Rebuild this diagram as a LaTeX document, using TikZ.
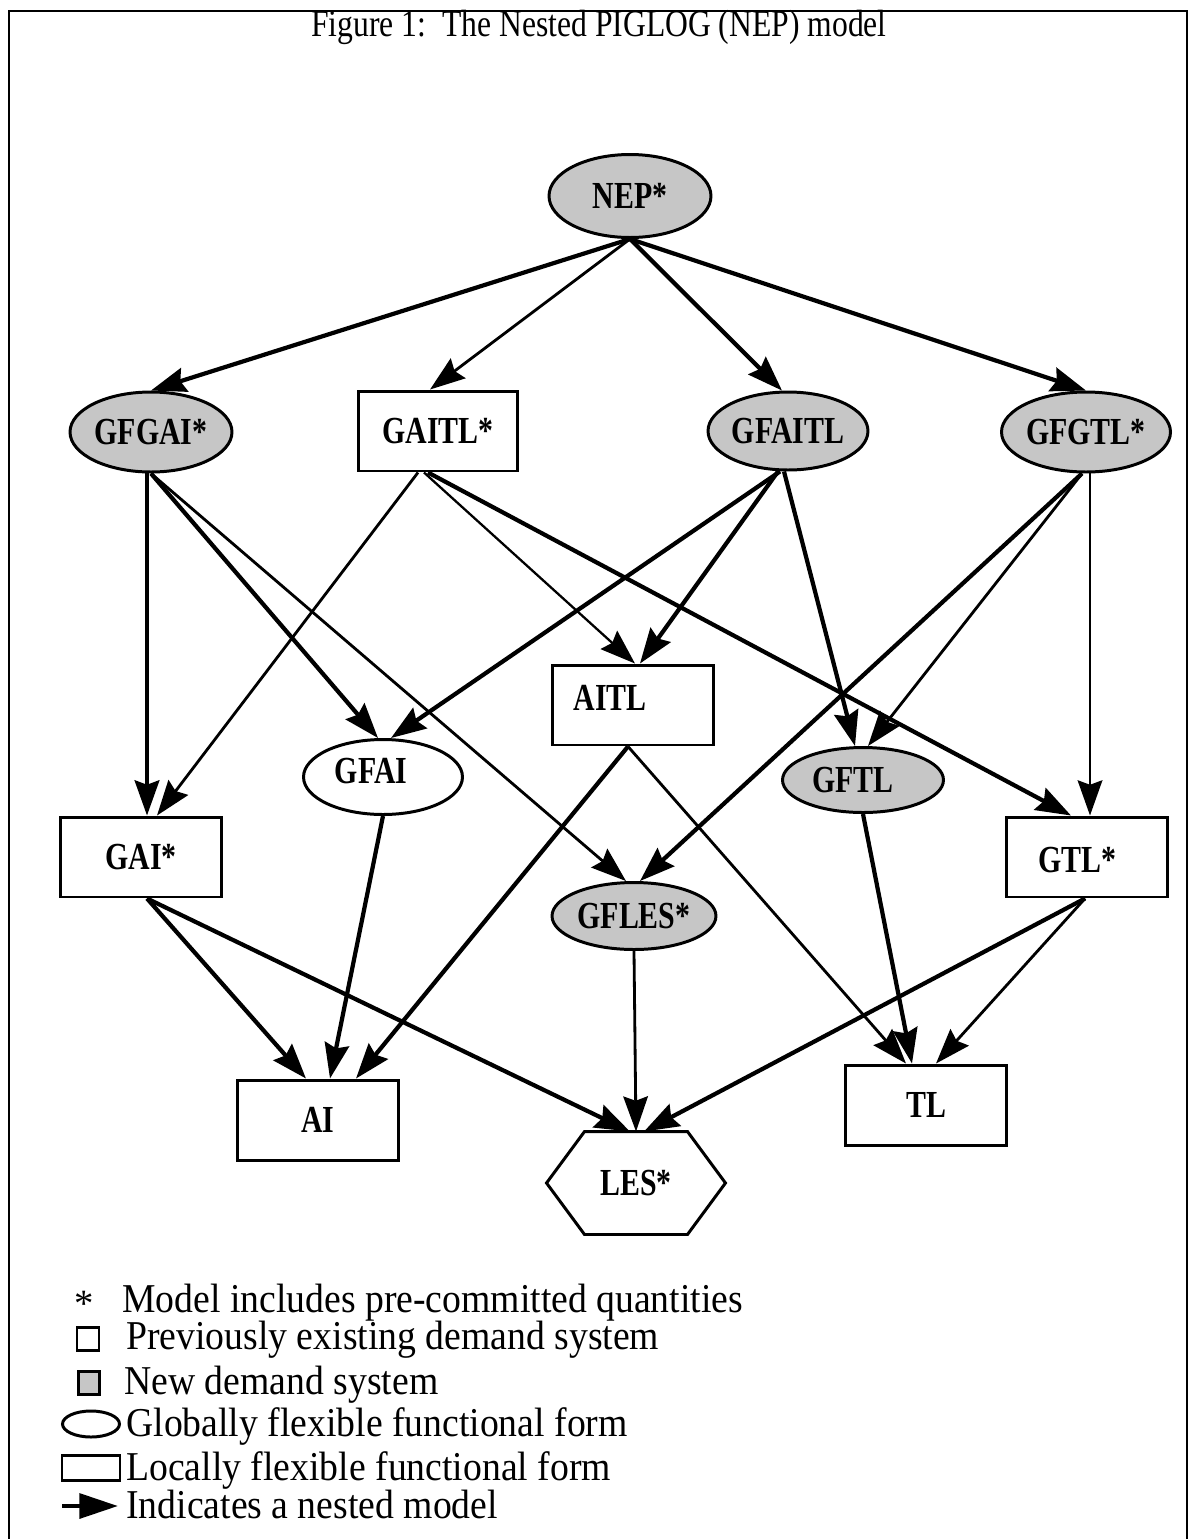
\documentclass[tikz,border=0pt]{standalone}
\usepackage{fontspec}
\usepackage{graphicx}
\setmainfont{Liberation Serif}
\usetikzlibrary{arrows.meta,calc,shapes.geometric}
\newcommand{\vst}[1]{\scalebox{1}[1.28]{#1}}
\newcommand{\lgt}[1]{\scalebox{0.975}[1.06]{#1}}
\tikzset{
 base/.style={draw,line width=1.7pt,inner sep=0pt,font=\fontsize{17}{20}\selectfont\bfseries},
 ebox/.style={base,ellipse},
 shaded/.style={fill=gray!45},
 rbox/.style={base,rectangle,minimum width=3.22cm,minimum height=1.6cm},
 lbl/.style={inner sep=0pt,font=\fontsize{17}{20}\selectfont\bfseries},
 tip/.style={-{Stealth[length=20pt,width=14pt,inset=2.5pt]}},
 thk/.style={tip,line width=2.4pt},
 thn/.style={tip,line width=1.6pt},
 thnn/.style={tip,line width=1.3pt},
 legtext/.style={anchor=base west,inner sep=0pt,font=\fontsize{22}{26}\selectfont},
 frame/.style={line width=1.6pt}
}
\begin{document}
\begin{tikzpicture}[x=0.02cm,y=-0.02cm]
\useasboundingbox (0,0) rectangle (1194,1539);
% frame
\coordinate (fA) at (9,1539);
\coordinate (fB) at (9,11);
\coordinate (fC) at (1187,11);
\coordinate (fD) at (1187,1539);
\draw[frame] (fA) -- (fB) -- (fC) -- (fD);
\node[inner sep=0pt,font=\fontsize{20}{24}\selectfont] (title) at (599,27) {\scalebox{0.9}[1.08]{Figure 1:\ \ The Nested PIGLOG (NEP) model}};

% nodes
\node[ebox,shaded,minimum width=3.24cm,minimum height=1.66cm] (NEP) at (630,196) {\vst{NEP*}};
\node[ebox,shaded,minimum width=3.24cm,minimum height=1.6cm] (GFGAI) at (151,432) {\vst{GFGAI*}};
\node[rbox,minimum width=3.18cm] (GAITL) at (438,431) {\vst{GAITL*}};
\node[ebox,shaded,minimum width=3.2cm,minimum height=1.56cm] (GFAITL) at (788,431) {\vst{GFAITL}};
\node[ebox,shaded,minimum width=3.26cm,minimum height=1.6cm] (GFGTL) at (1086,432) {\vst{GFGTL*}};
\node[rbox,minimum width=3.24cm] (AITL) at (633,705) {};
\node[lbl] (AITLt) at (610,698) {\vst{AITL}};
\node[ebox,minimum width=3.18cm,minimum height=1.5cm] (GFAI) at (383,777) {};
\node[lbl] (GFAIt) at (371,771) {\vst{GFAI}};
\node[ebox,shaded,minimum width=3.22cm,minimum height=1.3cm] (GFTL) at (863,780) {};
\node[lbl] (GFTLt) at (853,780) {\vst{GFTL}};
\node[rbox] (GAI) at (141,857) {\vst{GAI*}};
\node[rbox] (GTL) at (1087,857) {};
\node[lbl] (GTLt) at (1077,860) {\vst{GTL*}};
\node[ebox,shaded,minimum width=3.28cm,minimum height=1.34cm] (GFLES) at (634,916) {\vst{GFLES*}};
\node[rbox] (AI) at (318,1120) {\vst{AI}};
\node[rbox] (TL) at (926,1105) {\vst{TL}};
\node[base,draw=none,rectangle,minimum width=3.52cm,minimum height=2cm] (LES) at (636,1183) {\vst{LES*}};
\draw[line width=1.7pt] (LES.west) -- ($(LES.north west)+(38,0)$) -- ($(LES.north east)+(-38,0)$) -- (LES.east) -- ($(LES.south east)+(-38,0)$) -- ($(LES.south west)+(38,0)$) -- cycle;

% edges
\draw[thk] (NEP.south) -- (GFGAI.north);
\draw[thn] (NEP.south) -- ($(GAITL.north)+(-8,0)$);
\draw[thk] (NEP.south) -- ($(GFAITL.north)+(-6,0)$);
\draw[thk] (NEP.south) -- (GFGTL.north);

\draw[thk] ($(GFGAI.south)+(-4,0)$) -- ($(GAI.north)+(6,0)$);
\draw[thk] (GFGAI.south) -- ($(GFAI.north)+(-5,0)$);
\draw[thn] (GFGAI.south) -- ($(GFLES.north)+(-8,0)$);

\draw[thn] ($(GAITL.south)+(-20,0)$) -- ($(GAI.north)+(16,0)$);
\draw[thnn] ($(GAITL.south)+(-14,0)$) -- ($(AITL.north)+(2,0)$);
\draw[thk] ($(GAITL.south)+(-10,0)$) -- ($(GTL.north)+(-16,0)$);

\draw[thk] ($(GFAITL.south)+(-8,0)$) -- ($(GFAI.north)+(8,0)$);
\draw[thk] ($(GFAITL.south)+(-10,0)$) -- ($(AITL.north)+(7,0)$);
\draw[thk] ($(GFAITL.south)+(-4,0)$) -- ($(GFTL.north)+(-8,0)$);

\draw[thk] ($(GFGTL.south)+(-4,0)$) -- ($(GFLES.north)+(6,0)$);
\draw[thn] ($(GFGTL.south)+(-4,0)$) -- ($(GFTL.north)+(5,0)$);
\draw[thn] ($(GFGTL.south)+(4,0)$) -- ($(GTL.north)+(3,0)$);

\draw[thk] ($(AITL.south)+(-5,0)$) -- ($(AI.north)+(38,0)$);
\draw[thn] ($(AITL.south)+(-5,0)$) -- ($(TL.north)+(-20,0)$);
\draw[thk] (GFAI.south) -- ($(AI.north)+(12,0)$);
\draw[thk] (GFTL.south) -- ($(TL.north)+(-14,0)$);

\draw[thk] ($(GAI.south)+(6,0)$) -- ($(AI.north)+(-12,0)$);
\draw[thk] ($(GAI.south)+(6,0)$) -- ($(LES.north)+(-6,0)$);
\draw[thn] (GFLES.south) -- (LES.north);
\draw[thk] ($(GTL.south)+(-2,0)$) -- ($(LES.north)+(8,0)$);
\draw[thn] ($(GTL.south)+(-2,0)$) -- ($(TL.north)+(10,0)$);

% legend
\node[inner sep=0pt,font=\fontsize{22}{26}\selectfont] (lgstar) at (84,1304) {*};
\node[legtext] (lg1) at (122,1312) {\lgt{Model includes pre-committed quantities}};
\node[draw,line width=1.5pt,minimum width=0.44cm,minimum height=0.46cm,inner sep=0pt] (lgsq) at (88,1339) {};
\node[legtext] (lg2) at (126,1349) {\lgt{Previously existing demand system}};
\node[draw,fill=gray!45,line width=1.5pt,minimum width=0.42cm,minimum height=0.46cm,inner sep=0pt] (lgsh) at (89,1383) {};
\node[legtext] (lg3) at (124,1394) {\lgt{New demand system}};
\node[draw,ellipse,line width=1.7pt,minimum width=1.14cm,minimum height=0.52cm,inner sep=0pt] (lgel) at (91,1424) {};
\node[legtext] (lg4) at (126,1436) {\lgt{Globally flexible functional form}};
\node[draw,line width=1.7pt,minimum width=1.16cm,minimum height=0.5cm,inner sep=0pt] (lgre) at (91,1468) {};
\node[legtext] (lg5) at (126,1480) {\lgt{Locally flexible functional form}};
\coordinate (lgaA) at (62,1506);
\coordinate (lgaB) at (118,1506);
\draw[line width=2.6pt,-{Triangle[length=22pt,width=14pt]}] (lgaA) -- (lgaB);
\node[legtext] (lg6) at (126,1518) {\lgt{Indicates a nested model}};
\end{tikzpicture}
\end{document}
